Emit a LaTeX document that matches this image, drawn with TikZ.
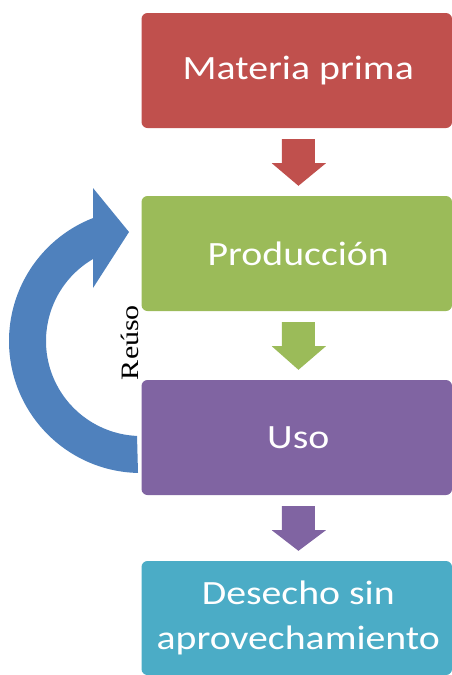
\documentclass[tikz,border=0pt]{standalone}
\usepackage{fontspec}
\setmainfont{Carlito}
\newfontfamily\serifrm{Liberation Serif}
\usetikzlibrary{calc}
\definecolor{cred}{HTML}{C0504D}
\definecolor{cgreen}{HTML}{9BBB59}
\definecolor{cpurple}{HTML}{8064A2}
\definecolor{cteal}{HTML}{4BACC6}
\definecolor{cblue}{HTML}{4F81BD}
\newcommand{\wide}[2][0pt]{\raisebox{#1}{\scalebox{1.17}[1]{#2}}}
\tikzset{
  stagebox/.style={rounded corners=6pt, minimum width=310.5pt, minimum height=115pt,
    text=white, inner sep=0pt, align=center,
    font=\fontsize{34}{45}\selectfont},
}
\newcommand{\downarrowshape}[3]{% #1 upper node, #2 lower node, #3 colour
  \fill[#3] ($(#1.south)+(-14.8,11)$) -- ++(33,0) -- ++(0,24) -- ++(11,0)
     -- ($(#2.north)+(1.7,-10)$) -- ($(#1.south)+(-25,35)$) -- ++(10.2,0) -- cycle;
}
\begin{document}
\begin{tikzpicture}[x=1pt,y=-1pt]
\useasboundingbox (0,0) rectangle (452,675);
\node[stagebox, fill=cred]    (mat) at (296.75,70.5)  {\hspace{3pt}\wide[-2.5pt]{Materia prima}};
\node[stagebox, fill=cgreen]  (pro) at (296.75,253.5) {\hspace{3pt}\wide[-0.5pt]{Producción}};
\node[stagebox, fill=cpurple] (uso) at (296.75,437.5) {\hspace{3pt}\wide{Uso}};
\node[stagebox, fill=cteal, minimum height=114pt] (des) at (296.75,618)
  {\hspace{3pt}\wide[-3.5pt]{Desecho sin}\\\hspace{3pt}\wide[-3.5pt]{aprovechamiento}};
\downarrowshape{mat}{pro}{cred}
\downarrowshape{pro}{uso}{cgreen}
\downarrowshape{uso}{des}{cpurple}
% curved reuse arrow
\coordinate (c) at (141,341);
\coordinate (htop) at (93,188);
\coordinate (htip) at (129,232);
\coordinate (hbot) at (93,288);
\fill[cblue] ($(c)+(91.3:132)$) arc[start angle=91.3, end angle=248.7, radius=132]
  -- (htop) -- (htip) -- (hbot) -- ($(c)+(239.7:95)$)
  arc[start angle=239.7, end angle=92.4, radius=95] -- cycle;
\node[rotate=90, font=\serifrm\fontsize{25}{25}\selectfont, inner sep=0pt] (reuso) at (130,342.5) {\scalebox{1.2}[1]{Reúso}};
\end{tikzpicture}
\end{document}
